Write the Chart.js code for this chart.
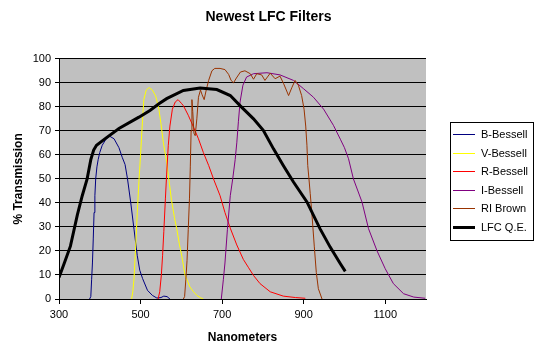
<!DOCTYPE html>
<html>
<head>
<meta charset="utf-8">
<title>Newest LFC Filters</title>
<script src="https://cdn.jsdelivr.net/npm/chart.js@4.4.1/dist/chart.umd.min.js"></script>
<style>
  body { margin: 0; background: #fff; }
</style>
</head>
<body>
<canvas id="filterChart" width="537" height="358"></canvas>
<script>
// Wavelength (nm) / transmission (%) pairs
const bNm  = [375, 378, 380, 382, 384, 386, 388, 390, 393, 396, 400, 406, 415, 424, 435, 447, 455, 462, 468, 476, 484, 492, 498, 505, 517, 529, 540, 550, 557, 565, 572];
const bVal = [0, 1, 8, 15, 25, 36, 43, 50, 55, 58, 61, 64, 66.5, 67.8, 66.7, 63, 59, 56, 50, 40, 29, 18, 12, 8.5, 3.6, 1.5, 0.4, 0.6, 1.2, 1, 0];

const vNm  = [478, 481, 484, 488, 492, 496, 500, 504, 508, 514, 521, 529, 537, 545, 550, 556, 564, 570, 576, 583, 589, 595, 601, 609, 621, 630, 638, 646, 654];
const vVal = [0, 3, 8.5, 22, 36, 49, 60, 72, 83, 87, 88, 87, 84.5, 79, 73, 65, 57, 49, 41, 34, 29, 23, 18, 10, 5, 3, 1.5, 0.6, 0];

const rNm  = [543, 547, 551, 554, 557, 561, 564, 568, 572, 578, 585, 592, 600, 605, 617, 630, 642, 654, 667, 680, 695, 707, 720, 736, 752, 765, 777, 793, 818, 850, 880, 904];
const rVal = [0, 3, 10, 18, 28, 42, 52, 64, 72, 79, 82, 83, 81.5, 80.5, 76.5, 71.5, 66.7, 61, 55.6, 49.5, 43, 36, 29.5, 22.5, 16.5, 13, 9.8, 6.4, 3, 1.2, 0.6, 0.3];

const iNm  = [698, 703, 707, 713, 720, 726, 732, 736, 740, 744, 751, 760, 777, 810, 842, 875, 900, 924, 949, 973, 990, 1000, 1010, 1022, 1043, 1059, 1080, 1100, 1120, 1145, 1170, 1198];
const iVal = [0, 8, 15, 29, 43, 50, 58, 65, 74, 82, 89, 92.4, 93.8, 94.2, 93.3, 91, 87.5, 84, 79, 72.3, 66.5, 63, 58.4, 50, 40.4, 29.3, 20, 12.6, 6.4, 2.2, 0.8, 0.3];

const riNm  = [605, 608, 611, 614, 617, 620, 622, 624, 626, 628, 631, 634, 638, 642, 647, 651, 656, 661, 667, 675, 682, 695, 707, 716, 722, 728, 735, 745, 756, 769, 777, 785, 797, 805, 818, 830, 842, 851, 863, 871, 879, 887, 895, 901, 905, 908, 910, 913, 916, 920, 926, 931, 936, 945];
const riVal = [0, 1, 8, 16, 29, 42, 55, 70, 83, 78, 69, 68, 75, 84, 87, 85, 83, 87, 91, 95, 96, 96, 95.5, 93.5, 91, 90, 92, 94.5, 95, 93.8, 91.5, 93.8, 93.3, 91, 94, 91.7, 92.8, 89.6, 84.7, 88, 91, 89, 84.7, 79, 72, 64, 55.6, 50, 44, 36, 22, 11, 4.3, 0];

const lfcNm  = [300, 312, 328, 345, 357, 369, 378, 385, 392, 415, 447, 496, 523, 545, 564, 605, 646, 687, 720, 744, 777, 801, 826, 850, 875, 908, 940, 965, 990, 1002];
const lfcVal = [9, 14.5, 22, 35, 43, 50, 58, 62, 64, 67, 71, 75.7, 78.5, 81.3, 83.4, 86.8, 87.8, 87.2, 84.7, 80.5, 75, 70.2, 62.5, 55.6, 48.7, 40.4, 29.3, 21.6, 14.7, 11.5];

const xTicks = [300, 500, 700, 900, 1100];

function points(nm, val) {
    return nm.map((x, i) => ({ x: x, y: val[i] }));
}

function curve(label, nm, val, color, width, order) {
    return {
        label: label,
        data: points(nm, val),
        borderColor: color,
        backgroundColor: color,
        borderWidth: width,
        pointRadius: 0,
        tension: 0,
        order: order
    };
}

Chart.defaults.font.family = 'Arial, "Liberation Sans", sans-serif';
Chart.defaults.color = '#000';

// grey plot area like the Excel original
const plotBackground = {
    id: 'plotBackground',
    beforeDraw(chart) {
        const a = chart.chartArea;
        chart.ctx.save();
        chart.ctx.fillStyle = '#c0c0c0';
        chart.ctx.fillRect(a.left, a.top, a.right - a.left, a.bottom - a.top);
        chart.ctx.restore();
    }
};

// boxed legend to the right of the plot
const boxLegend = {
    id: 'boxLegend',
    afterDraw(chart) {
        const ctx = chart.ctx;
        const left = 450, top = 122;
        ctx.save();
        ctx.fillStyle = '#fff';
        ctx.fillRect(left + 0.5, top + 0.5, 83, 118);
        ctx.strokeStyle = '#000';
        ctx.lineWidth = 1;
        ctx.strokeRect(left + 0.5, top + 0.5, 83, 118);
        ctx.font = '11px Arial, "Liberation Sans", sans-serif';
        ctx.textBaseline = 'middle';
        chart.data.datasets.forEach((ds, i) => {
            const y = Math.round(top + 12 + i * 18.6) + 0.5;
            ctx.strokeStyle = ds.borderColor;
            ctx.lineWidth = ds.borderWidth;
            ctx.beginPath();
            ctx.moveTo(left + 3, y);
            ctx.lineTo(left + 25, y);
            ctx.stroke();
            ctx.fillStyle = '#000';
            ctx.fillText(ds.label, left + 31, y);
        });
        ctx.restore();
    }
};

const ctx = document.getElementById('filterChart').getContext('2d');
const filterChart = new Chart(ctx, {
    type: 'line',
    data: {
        datasets: [
            curve('B-Bessell', bNm, bVal, '#000080', 1, 5),
            curve('V-Bessell', vNm, vVal, '#ffff00', 1, 4),
            curve('R-Bessell', rNm, rVal, '#ff0000', 1, 3),
            curve('I-Bessell', iNm, iVal, '#800080', 1, 2),
            curve('RI Brown', riNm, riVal, '#993300', 1, 1),
            curve('LFC Q.E.', lfcNm, lfcVal, '#000000', 3, 0)
        ]
    },
    options: {
        responsive: false,
        animation: false,
        plugins: {
            legend: { display: false },
            tooltip: { enabled: false },
            title: {
                display: true,
                text: 'Newest LFC Filters',
                font: { size: 14, weight: 'bold' },
                padding: { top: 9, bottom: 33 }
            }
        },
        scales: {
            x: {
                type: 'linear',
                min: 300,
                max: 1200,
                afterBuildTicks: (axis) => {
                    axis.ticks = xTicks.map(v => ({ value: v }));
                },
                afterFit: (axis) => { axis.height = 59; },
                ticks: {
                    font: { size: 11 },
                    padding: 4,
                    maxRotation: 0,
                    callback: (v) => String(v)
                },
                grid: {
                    drawOnChartArea: false,
                    color: '#000',
                    tickLength: 5
                },
                border: { color: '#000' },
                title: {
                    display: true,
                    text: 'Nanometers',
                    font: { size: 12, weight: 'bold' },
                    padding: { top: 0, bottom: 13 }
                }
            },
            y: {
                min: 0,
                max: 100,
                afterFit: (axis) => { axis.width = 59; },
                ticks: {
                    stepSize: 10,
                    font: { size: 11 },
                    padding: 4
                },
                grid: {
                    color: '#000',
                    tickLength: 4
                },
                border: { color: '#000' },
                title: {
                    display: true,
                    text: '% Transmission',
                    font: { size: 12, weight: 'bold' },
                    padding: { top: 11, bottom: 0 }
                }
            },
            // empty axis that reserves room for the legend box
            spacer: {
                position: 'right',
                afterFit: (axis) => { axis.width = 111; },
                ticks: { display: false },
                grid: { display: false },
                border: { display: false }
            }
        }
    },
    plugins: [plotBackground, boxLegend]
});
</script>
</body>
</html>
